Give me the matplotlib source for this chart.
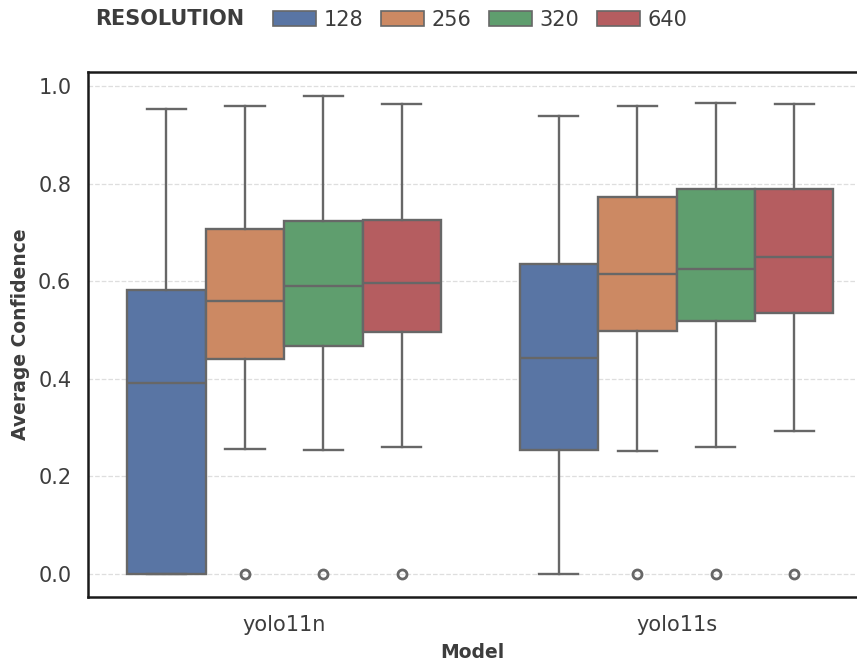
import colorsys
import matplotlib
matplotlib.use("Agg")
import matplotlib.pyplot as plt
import matplotlib.colors as mcolors
from matplotlib.patches import Patch

# values
models = ["yolo11n", "yolo11s"]
resolutions = ["128", "256", "320", "640"]

whisk_low = {"yolo11n": [0.000, 0.256, 0.254, 0.260],
             "yolo11s": [0.000, 0.253, 0.260, 0.293]}
q1 = {"yolo11n": [0.000, 0.441, 0.467, 0.497],
      "yolo11s": [0.254, 0.499, 0.519, 0.535]}
medians = {"yolo11n": [0.392, 0.560, 0.590, 0.596],
           "yolo11s": [0.442, 0.615, 0.626, 0.649]}
q3 = {"yolo11n": [0.582, 0.707, 0.724, 0.725],
      "yolo11s": [0.635, 0.773, 0.790, 0.790]}
whisk_high = {"yolo11n": [0.953, 0.959, 0.979, 0.964],
              "yolo11s": [0.938, 0.960, 0.966, 0.963]}
outliers = {"yolo11n": [[], [0.0], [0.0], [0.0]],
            "yolo11s": [[], [0.0], [0.0], [0.0]]}

base_colors = ["#4C72B0", "#DD8452", "#55A868", "#C44E52"]


def desat(c, s=0.75):
    r, g, b = mcolors.to_rgb(c)
    h, l, sat = colorsys.rgb_to_hls(r, g, b)
    return colorsys.hls_to_rgb(h, l, sat * s)


colors = [desat(c) for c in base_colors]
line_col = "#676767"
text_col = "#3d3d3d"

fig = plt.figure(figsize=(8.57, 6.63), dpi=100)
ax = fig.add_axes([88 / 857, 66 / 663, 1 - 88 / 857, (597 - 72) / 663])

width = 0.2
for i, m in enumerate(models):
    stats = []
    positions = []
    for j in range(len(resolutions)):
        stats.append({
            "whislo": whisk_low[m][j], "q1": q1[m][j], "med": medians[m][j],
            "q3": q3[m][j], "whishi": whisk_high[m][j], "fliers": outliers[m][j],
        })
        positions.append(i + (j - 1.5) * width)
    bp = ax.bxp(stats, positions=positions, widths=width, capwidths=width / 2,
                patch_artist=True, showfliers=True,
                boxprops=dict(edgecolor=line_col, linewidth=1.7),
                medianprops=dict(color=line_col, linewidth=1.7),
                whiskerprops=dict(color=line_col, linewidth=1.7),
                capprops=dict(color=line_col, linewidth=1.7),
                flierprops=dict(marker="o", markerfacecolor="none",
                                markeredgecolor=line_col, markersize=6.5,
                                markeredgewidth=2.0))
    for patch, c in zip(bp["boxes"], colors):
        patch.set_facecolor(c)
    for art in bp["boxes"] + bp["medians"] + bp["whiskers"] + bp["caps"] + bp["fliers"]:
        art.set_zorder(3)

ax.set_xlim(-0.5, 1.46)
ax.set_ylim(-0.047, 1.029)
ax.set_xticks(range(len(models)))
ax.set_xticklabels(models)
ax.set_yticks([0.0, 0.2, 0.4, 0.6, 0.8, 1.0])
ax.tick_params(axis="both", length=0, labelsize=15, labelcolor=text_col)
ax.tick_params(axis="y", pad=12)
ax.tick_params(axis="x", pad=13)
ax.yaxis.grid(True, linestyle="--", color="#dedede", linewidth=0.9, zorder=0)
ax.set_axisbelow(True)

for side in ["left", "top", "bottom"]:
    ax.spines[side].set_color("#1a1a1a")
    ax.spines[side].set_linewidth(1.8)
ax.spines["right"].set_visible(False)

ax.set_xlabel("Model", fontsize=13.5, fontweight="bold", color=text_col, labelpad=6)
ax.set_ylabel("Average Confidence", fontsize=13.5, fontweight="bold", color=text_col, labelpad=6)

handles = [Patch(facecolor=c, edgecolor=line_col, linewidth=1.2) for c in colors]
fig.legend(handles, resolutions, loc="center left", bbox_to_anchor=(273 / 857, 1 - 20 / 663),
           ncol=4, frameon=False, fontsize=15, handlelength=2.07, handleheight=0.7,
           handletextpad=0.38, columnspacing=0.82, labelcolor=text_col, borderpad=0,
           borderaxespad=0)
fig.text(95 / 857, 1 - 19 / 663, "RESOLUTION", fontsize=15, fontweight="bold",
         color=text_col, va="center", ha="left")

fig.savefig("out.png", dpi=100)
